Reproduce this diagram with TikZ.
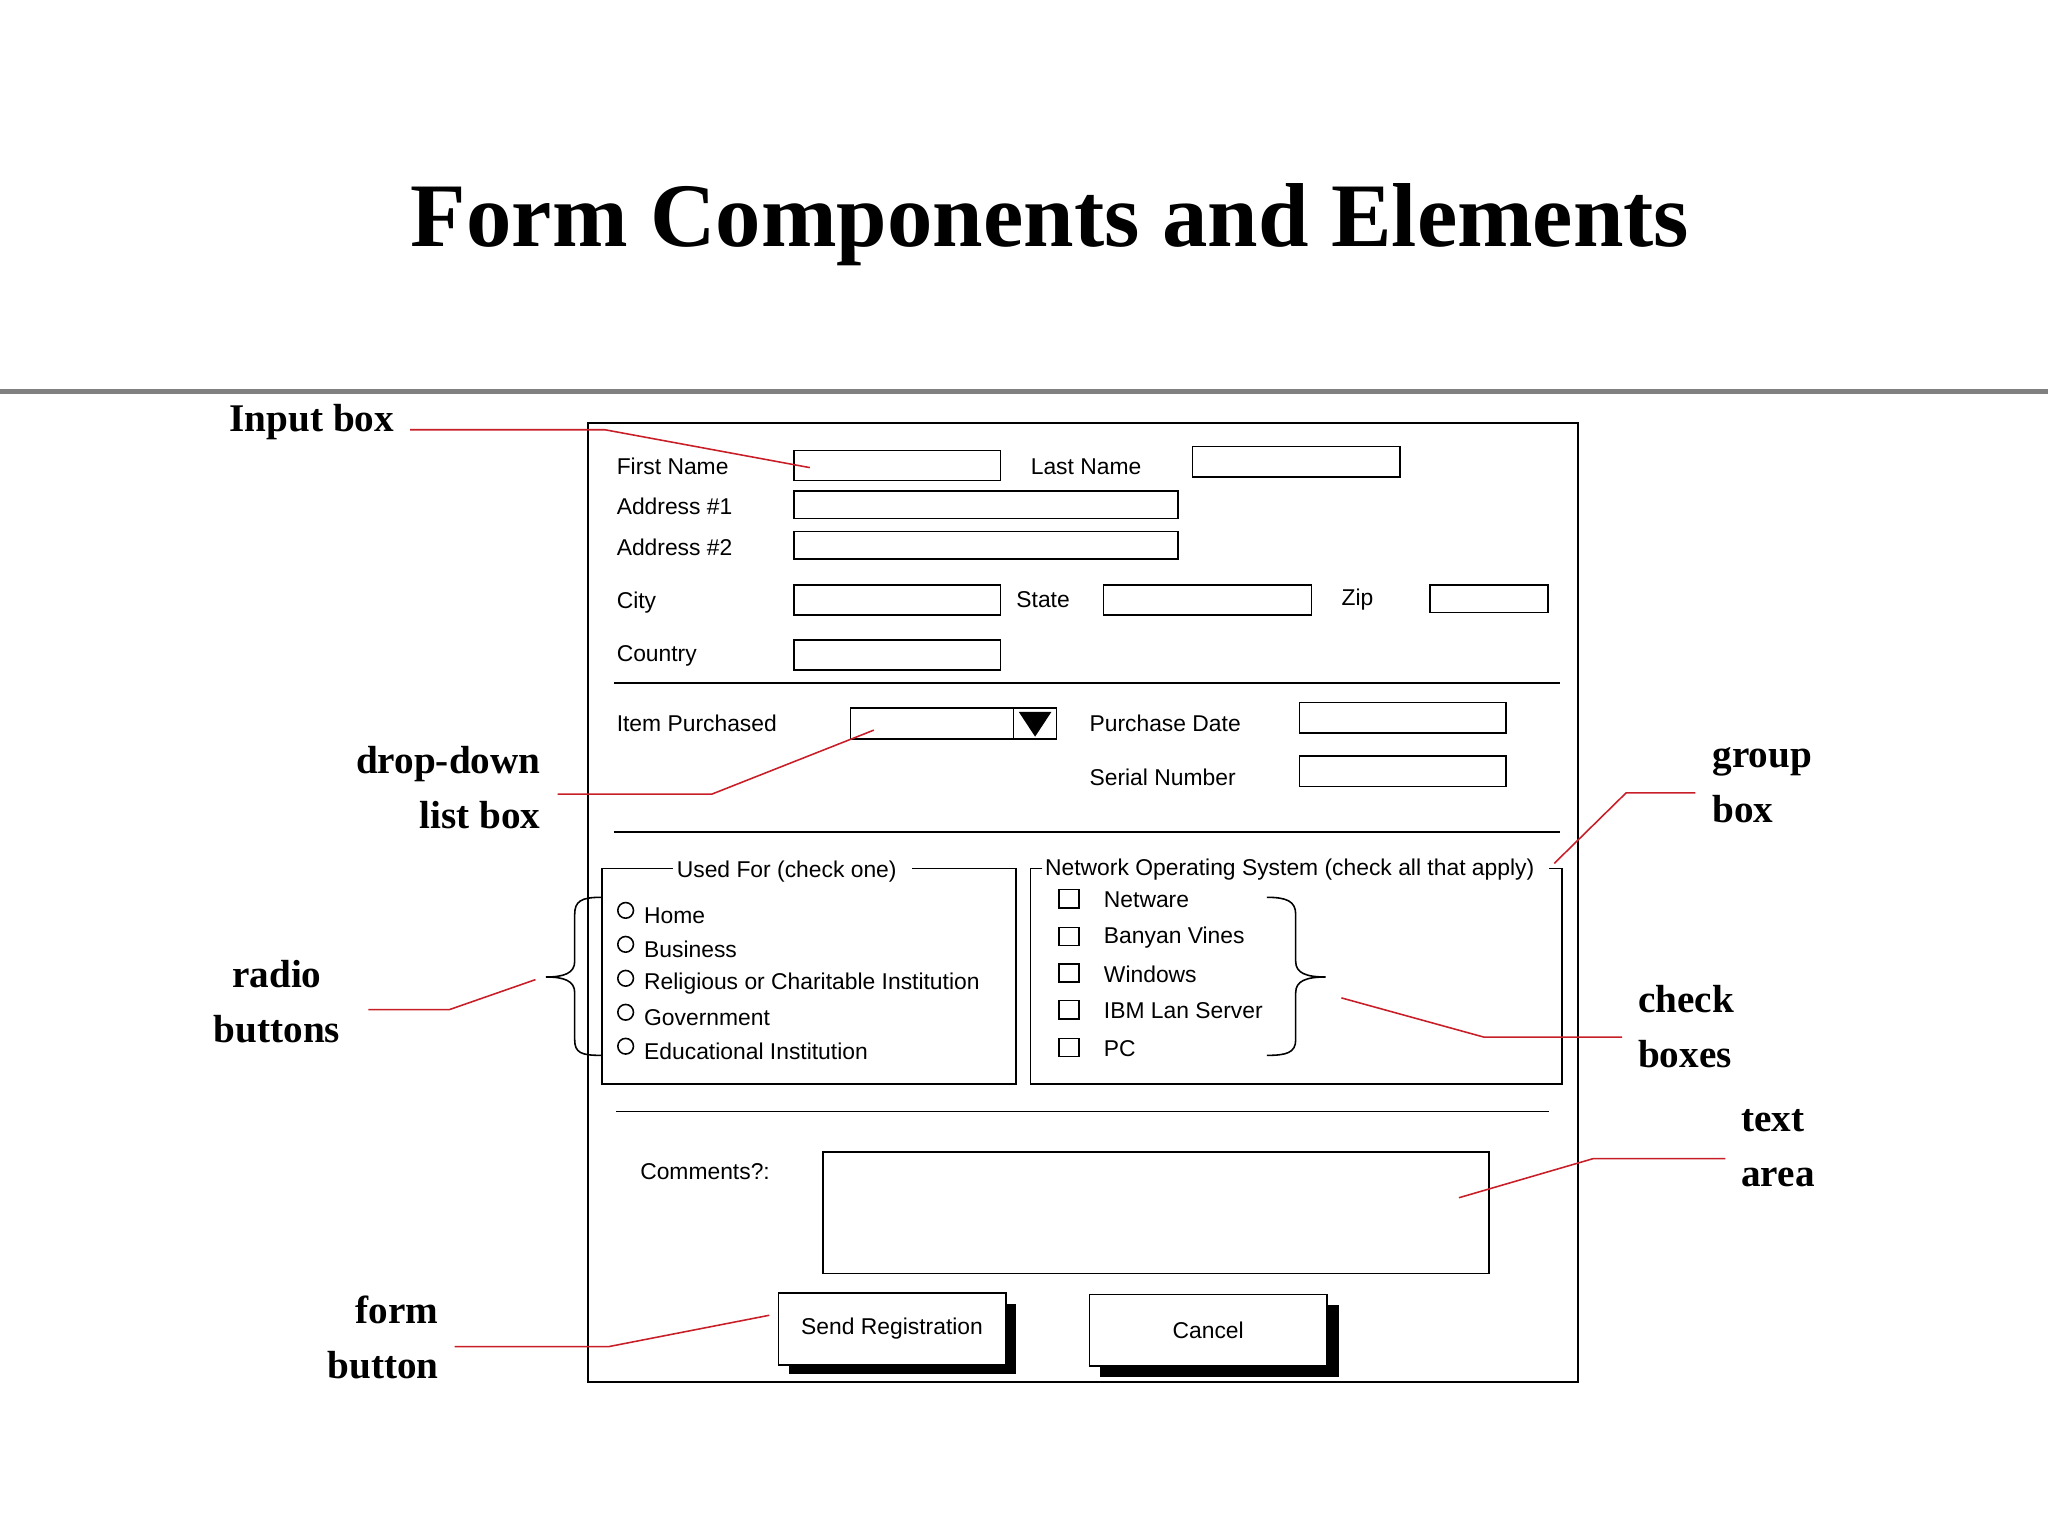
\documentclass[tikz,border=0pt]{standalone}
\usepackage{fontspec}
\setmainfont{Liberation Serif}
\newfontfamily\formfont{Liberation Sans}
\definecolor{calloutred}{RGB}{200,30,40}
\definecolor{rulegray}{RGB}{128,128,128}
\begin{document}
\begin{tikzpicture}[x=1pt,y=-1pt
            ,field/.style={draw=black,line width=1.2pt}
            ,lbl/.style={anchor=west,inner sep=0pt,font=\formfont\fontsize{17.5}{20}\selectfont}
            ,callout/.style={inner sep=0pt,font=\bfseries\fontsize{30}{42}\selectfont,align=left}
            ,pointer/.style={calloutred,line width=1.2pt}
            ,sepline/.style={black,line width=1.2pt}
        ]
        \useasboundingbox (0,0) rectangle (1568,1176);
        \node[font=\bfseries\fontsize{69.5}{80}\selectfont] (title) at (804,172) {Form Components and Elements};
        \draw[rulegray,line width=4pt] (0,300) -- (1568,300);
        \draw[field] (450,324) rectangle (1208,1058);
        % name and address fields
        \node[lbl] (first) at (472,357) {First Name};
        \draw[field] (608,345) rectangle (766,368);
        \node[lbl] (last) at (789,357) {Last Name};
        \draw[field] (913,342) rectangle (1072,365);
        \node[lbl] (addr1) at (472,388) {Address \#1};
        \draw[field] (608,376) rectangle (902,397);
        \node[lbl] (addr2) at (472,419) {Address \#2};
        \draw[field] (608,407) rectangle (902,428);
        \node[lbl] (city) at (472,461) {City};
        \draw[field] (608,448) rectangle (766,471);
        \node[lbl] (state) at (778,459) {State};
        \draw[field] (845,448) rectangle (1004,471);
        \node[lbl] (zip) at (1027,459) {Zip};
        \draw[field] (1095,448) rectangle (1185,469);
        \node[lbl] (country) at (472,502) {Country};
        \draw[field] (608,490) rectangle (766,513);
        \draw[sepline] (470,523) -- (1194,523);
        % purchase fields
        \node[lbl] (item) at (472,554) {Item Purchased};
        \draw[field] (651,542) rectangle (809,566);
        \draw[field] (776,542) -- (776,566);
        \fill[black] (780,545) -- (805,545) -- (792.5,564) -- cycle;
        \node[lbl] (pdate) at (834,554) {Purchase Date};
        \draw[field] (995,538) rectangle (1153,561);
        \node[lbl] (serial) at (834,595) {Serial Number};
        \draw[field] (995,579) rectangle (1153,602);
        \draw[sepline] (470,637) -- (1194,637);
        % group boxes
        \draw[field] (515,665) -- (461,665) -- (461,830) -- (778,830) -- (778,665) -- (698,665);
        \node[lbl] (usedfor) at (518,667) {Used For (check one)};
        \draw[field] (798,665) -- (789,665) -- (789,830) -- (1196,830) -- (1196,665) -- (1186,665);
        \node[lbl] (nos) at (800,666) {Network Operating System (check all that apply)};
        \foreach \y/\t [count=\i] in {697/Home,723/Business,749/Religious or Charitable Institution,775/Government,801/Educational Institution}{
            \draw[line width=1.2pt] (479,\y) circle (6);
            \node[lbl] (radio\i) at (493,\y+4) {\t};
        }
        \foreach \y/\t [count=\i] in {688/Netware,717/Banyan Vines,745/Windows,773/IBM Lan Server,802/PC/NFS}{
            \draw[line width=1.2pt] (811,\y-7) rectangle (826,\y+7);
            \node[lbl] (check\i) at (845,\y+1) {\t};
        }
        \draw[line width=1.2pt] (460,687) .. controls (445,687) and (440,690) .. (440,700) -- (440,736) .. controls (440,745) and (432,748) .. (418,748) .. controls (432,748) and (440,751) .. (440,760) -- (440,796) .. controls (440,806) and (445,808) .. (460,808);
        \draw[line width=1.2pt] (970,687) .. controls (985,687) and (992,690) .. (992,700) -- (992,736) .. controls (992,745) and (1000,748) .. (1015,748) .. controls (1000,748) and (992,751) .. (992,760) -- (992,796) .. controls (992,806) and (985,808) .. (970,808);
        \draw[sepline] (472,851) -- (1186,851);
        % comments and buttons
        \node[lbl] (comments) at (490,897) {Comments?:};
        \draw[field] (630,882) rectangle (1140,975);
        \fill[black] (604,998) rectangle (778,1052);
        \node[draw,fill=white,line width=1.2pt,minimum width=174pt,minimum height=55pt,font=\formfont\fontsize{17.5}{20}\selectfont] (send) at (683,1017.5) {Send Registration};
        \fill[black] (842,999) rectangle (1025,1054);
        \node[draw,fill=white,line width=1.2pt,minimum width=182pt,minimum height=55pt,font=\formfont\fontsize{17.5}{20}\selectfont] (cancel) at (925,1018.5) {Cancel};
        % callouts
        \node[callout,anchor=east] (inputlbl) at (302,323) {Input box};
        \coordinate (inputend) at (620,358);
        \draw[pointer] (inputlbl.east) ++(12,6) -- (463,329) -- (inputend);
        \node[callout,anchor=east,align=right] (droplbl) at (414,603) {drop-down\\list box};
        \coordinate (dropend) at (669,559);
        \draw[pointer] (427,608) -- (545,608) -- (dropend);
        \node[callout,align=center] (radiolbl) at (212,767) {radio\\buttons};
        \coordinate (radioend) at (410,750);
        \draw[pointer] (282,773) -- (344,773) -- (radioend);
        \node[callout,anchor=west] (grouplbl) at (1311,601) {group\\box};
        \coordinate (groupend) at (1190,661);
        \draw[pointer] (1298,607) -- (1245,607) -- (groupend);
        \node[callout,anchor=west] (checklbl) at (1254,786) {check\\boxes};
        \coordinate (checkend) at (1027,764);
        \draw[pointer] (1242,794) -- (1136,794) -- (checkend);
        \node[callout,anchor=west] (textlbl) at (1333,879) {text\\area};
        \coordinate (textend) at (1117,917);
        \draw[pointer] (1321,887) -- (1220,887) -- (textend);
        \node[callout,anchor=east,align=right] (btnlbl) at (336,1024) {form\\button};
        \coordinate (btnend) at (589,1007);
        \draw[pointer] (348,1031) -- (466,1031) -- (btnend);
    \end{tikzpicture}
\end{document}
